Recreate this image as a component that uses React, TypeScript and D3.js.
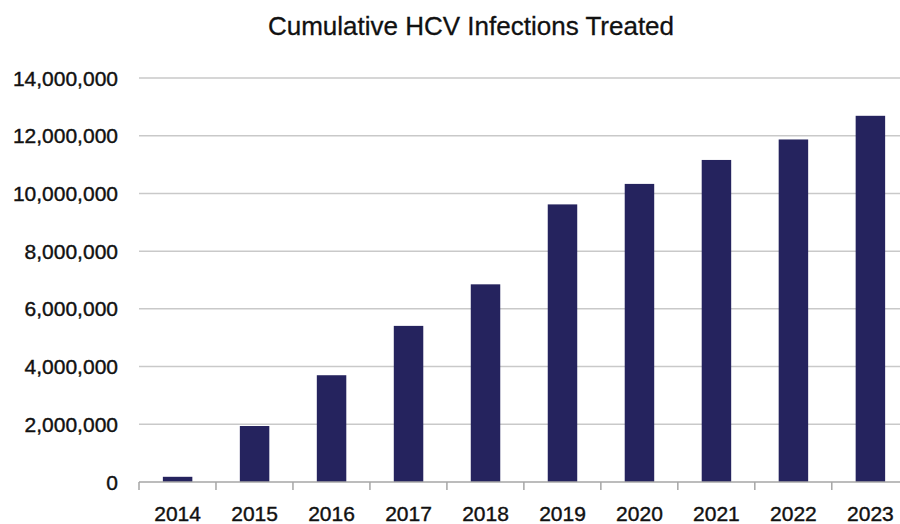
import React, { useEffect, useRef } from 'react';
import * as d3 from 'd3';

const years = ['2014', '2015', '2016', '2017', '2018', '2019', '2020', '2021', '2022', '2023'];
const treated = [180000, 1940000, 3700000, 5410000, 6850000, 9620000, 10330000, 11160000, 11870000, 12690000];
const yTicks = [0, 2000000, 4000000, 6000000, 8000000, 10000000, 12000000, 14000000];
const title = 'Cumulative HCV Infections Treated';

const App = () => {
  const ref = useRef<SVGSVGElement>(null);

  useEffect(() => {
    const width = 900;
    const height = 524;
    const left = 139;
    const right = 909;
    const top = 78;
    const bottom = 482;
    const font = '"Liberation Sans", Arial, sans-serif';

    const svg = d3.select(ref.current);
    svg.selectAll('*').remove();
    svg.attr('width', width).attr('height', height);

    svg.append('rect').attr('width', width).attr('height', height).attr('fill', '#fff');

    const x = d3.scaleBand().domain(years).range([left, right]).paddingInner(0.617).paddingOuter(0.31);
    const y = d3.scaleLinear().domain([0, 14000000]).range([bottom, top]);

    // gridlines
    svg.append('g')
      .selectAll('line')
      .data(yTicks.slice(1))
      .enter().append('line')
      .attr('x1', left)
      .attr('x2', right)
      .attr('y1', d => y(d))
      .attr('y2', d => y(d))
      .attr('stroke', '#c9c9c9')
      .attr('stroke-width', 1.5);

    // y labels
    svg.append('g')
      .selectAll('text')
      .data(yTicks)
      .enter().append('text')
      .attr('x', 118)
      .attr('y', d => y(d))
      .attr('dy', '0.36em')
      .attr('text-anchor', 'end')
      .attr('font-family', font)
      .attr('font-size', 21)
      .attr('fill', '#111')
      .attr('stroke', '#111')
      .attr('stroke-width', 0.4)
      .text(d => d3.format(',')(d));

    // bars
    svg.append('g')
      .selectAll('rect')
      .data(years)
      .enter().append('rect')
      .attr('x', d => x(d)!)
      .attr('y', (d, i) => y(treated[i]))
      .attr('width', x.bandwidth())
      .attr('height', (d, i) => bottom - y(treated[i]))
      .attr('fill', '#25235e');

    // x axis
    const axis = svg.append('g');
    axis.append('line')
      .attr('x1', left).attr('x2', right)
      .attr('y1', bottom).attr('y2', bottom)
      .attr('stroke', '#a6a6a6').attr('stroke-width', 1.5);
    const step = x.step();
    axis.selectAll('line.tick')
      .data(d3.range(years.length + 1))
      .enter().append('line')
      .attr('class', 'tick')
      .attr('x1', i => left + i * step)
      .attr('x2', i => left + i * step)
      .attr('y1', bottom)
      .attr('y2', bottom + 8)
      .attr('stroke', '#a6a6a6').attr('stroke-width', 1.5);
    axis.selectAll('text')
      .data(years)
      .enter().append('text')
      .attr('x', d => x(d)! + x.bandwidth() / 2)
      .attr('y', 521)
      .attr('text-anchor', 'middle')
      .attr('font-family', font)
      .attr('font-size', 21)
      .attr('fill', '#111')
      .attr('stroke', '#111')
      .attr('stroke-width', 0.4)
      .text(d => d);

    svg.append('text')
      .attr('x', 471)
      .attr('y', 35)
      .attr('text-anchor', 'middle')
      .attr('font-family', font)
      .attr('font-size', 26)
      .attr('fill', '#111')
      .attr('stroke', '#111')
      .attr('stroke-width', 0.3)
      .text(title);
  }, []);

  return (
    <div>
      <svg ref={ref} style={{ position: 'absolute', left: 0, top: 0 }}></svg>
    </div>
  );
};

export default App;
